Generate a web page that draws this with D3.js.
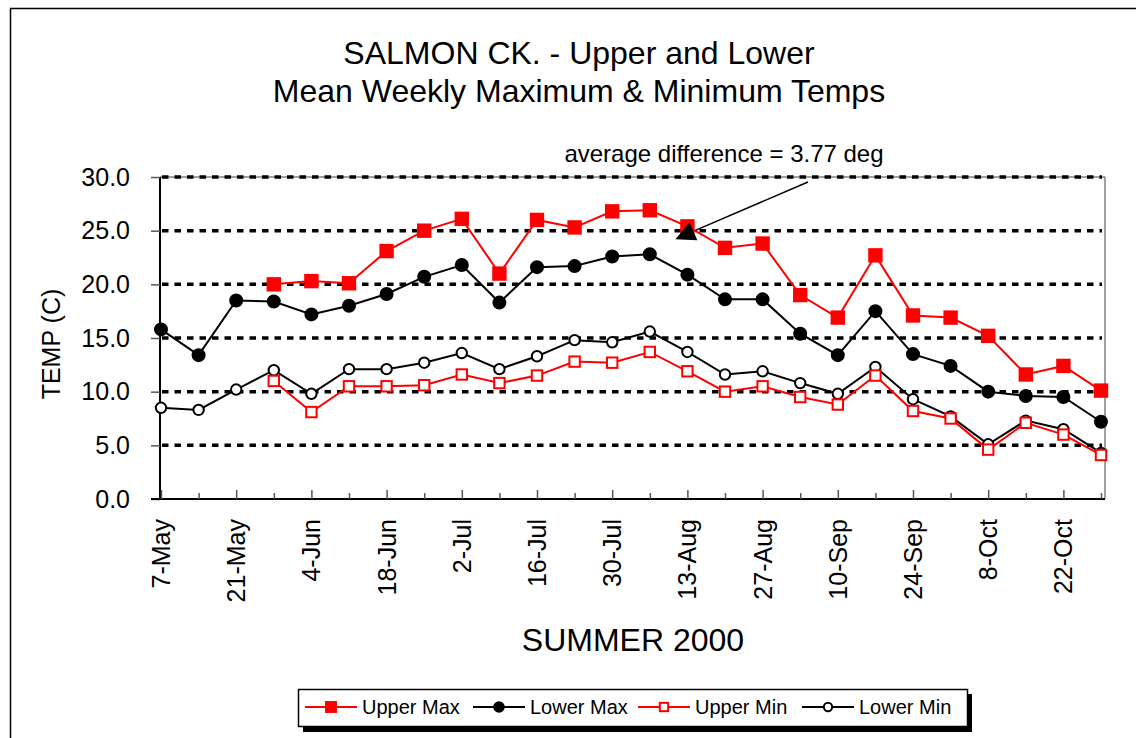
<!DOCTYPE html>
<html>
<head>
<meta charset="utf-8">
<script src="https://cdn.jsdelivr.net/npm/d3@7"></script>
<style>
  body { margin: 0; background: #fff; }
  svg { font-family: "Liberation Sans", Arial, sans-serif; }
</style>
</head>
<body>
<svg id="chart" width="1136" height="738"></svg>
<script>
// weekly dates, 7-May .. 29-Oct 2000
var weeks = ["7-May","14-May","21-May","28-May","4-Jun","11-Jun","18-Jun","25-Jun","2-Jul","9-Jul",
  "16-Jul","23-Jul","30-Jul","6-Aug","13-Aug","20-Aug","27-Aug","3-Sep","10-Sep","17-Sep",
  "24-Sep","1-Oct","8-Oct","15-Oct","22-Oct","29-Oct"];
var upperMax = [null,null,null,20.0,20.3,20.1,23.1,25.0,26.1,21.0,26.0,25.3,26.8,26.9,25.4,23.4,23.8,19.0,16.9,22.7,17.1,16.9,15.2,11.6,12.4,10.1];
var lowerMax = [15.8,13.4,18.5,18.4,17.2,18.0,19.1,20.7,21.8,18.3,21.6,21.7,22.6,22.8,20.9,18.6,18.6,15.4,13.4,17.5,13.5,12.4,10.0,9.6,9.5,7.2];
var upperMin = [null,null,null,11.0,8.1,10.5,10.5,10.6,11.6,10.8,11.5,12.8,12.7,13.7,11.9,10.0,10.5,9.5,8.8,11.5,8.2,7.5,4.6,7.1,6.0,4.1];
var lowerMin = [8.5,8.3,10.2,12.0,9.8,12.1,12.1,12.7,13.6,12.1,13.3,14.8,14.6,15.6,13.7,11.6,11.9,10.8,9.8,12.3,9.3,7.7,5.1,7.3,6.5,4.3];
var yTicks = [0,5,10,15,20,25,30];

var series = [
  {name:"Upper Max", values:upperMax, color:"#ff0000", marker:"square", filled:true},
  {name:"Lower Max", values:lowerMax, color:"#000000", marker:"circle", filled:true},
  {name:"Upper Min", values:upperMin, color:"#ff0000", marker:"square", filled:false},
  {name:"Lower Min", values:lowerMin, color:"#000000", marker:"circle", filled:false}
];

var svg = d3.select("#chart");
var pLeft = 160, pRight = 1105, pTop = 177, pBottom = 499;

var x = d3.scaleLinear().domain([0, weeks.length - 1]).range([161, 1101]);
var y = d3.scaleLinear().domain([0, 30]).range([pBottom, pTop]);

// outer chart frame
svg.append("rect").attr("x", 10.5).attr("y", 8.5).attr("width", 1140).attr("height", 740)
  .attr("fill", "none").attr("stroke", "#000").attr("stroke-width", 1.5);

// title
svg.append("text").attr("x", 579).attr("y", 64).attr("text-anchor", "middle")
  .attr("font-size", 32).text("SALMON CK. - Upper and Lower");
svg.append("text").attr("x", 579).attr("y", 102).attr("text-anchor", "middle")
  .attr("font-size", 32).text("Mean Weekly Maximum & Minimum Temps");

// plot border (gray top / right)
svg.append("line").attr("x1", pLeft).attr("x2", pRight).attr("y1", pTop).attr("y2", pTop)
  .attr("stroke", "#808080").attr("stroke-width", 1.5);
svg.append("line").attr("x1", pRight).attr("x2", pRight).attr("y1", pTop).attr("y2", pBottom)
  .attr("stroke", "#808080").attr("stroke-width", 1.5);

// dotted gridlines
svg.append("g").selectAll("line").data(yTicks.filter(d => d > 0)).join("line")
  .attr("x1", pLeft + 2).attr("x2", pRight - 3)
  .attr("y1", d => y(d)).attr("y2", d => y(d))
  .attr("stroke", "#000").attr("stroke-width", 3.5)
  .attr("stroke-dasharray", "6.5,6");

// y axis
var yAxis = svg.append("g").attr("transform", `translate(${pLeft},0)`)
  .call(d3.axisLeft(y).tickValues(yTicks).tickFormat(d3.format(".1f")).tickSize(9).tickPadding(21));
yAxis.select(".domain").attr("d", `M0,${pTop}V${pBottom}`).attr("stroke-width", 2);
yAxis.selectAll(".tick line").attr("stroke", "#555").attr("stroke-width", 1.5);
yAxis.selectAll("text").attr("font-size", 25).attr("fill", "#000")
  .attr("font-family", "Liberation Sans, Arial, sans-serif");

// x axis
var xAxis = svg.append("g").attr("transform", `translate(0,${pBottom})`)
  .call(d3.axisBottom(x).tickValues(d3.range(weeks.length)).tickSize(0).tickFormat(""));
xAxis.select(".domain").attr("d", `M${pLeft - 9},0H${pRight}`).attr("stroke-width", 2);
xAxis.selectAll(".tick line").attr("y2", (d, i) => i % 2 === 0 ? -9 : -6)
  .attr("stroke", "#555").attr("stroke-width", 1.5);

svg.append("g").selectAll("text").data(weeks.filter((d, i) => i % 2 === 0)).join("text")
  .attr("transform", (d, i) => `translate(${x(i * 2) + 9},${pBottom + 20}) rotate(-90)`)
  .attr("text-anchor", "end").attr("font-size", 25).text(d => d);

// axis titles
svg.append("text").attr("x", 633).attr("y", 651).attr("text-anchor", "middle")
  .attr("font-size", 32).text("SUMMER 2000");
svg.append("text").attr("transform", "translate(60,344) rotate(-90)").attr("text-anchor", "middle")
  .attr("font-size", 25).text("TEMP (C)");

// series lines & markers
var line = d3.line().defined(d => d != null).x((d, i) => x(i)).y(d => y(d));

function drawMarker(g, s, cx, cy, scale) {
  if (s.marker === "square") {
    var h = (s.filled ? 6.2 : 5.2) * scale;
    g.append("rect").attr("x", cx - h).attr("y", cy - h).attr("width", 2 * h).attr("height", 2 * h)
      .attr("fill", s.filled ? s.color : "#fff").attr("stroke", s.color).attr("stroke-width", 2);
  } else {
    g.append("circle").attr("cx", cx).attr("cy", cy).attr("r", (s.filled ? 6 : 5.2) * scale)
      .attr("fill", s.filled ? s.color : "#fff").attr("stroke", s.color).attr("stroke-width", 2);
  }
}

series.slice().reverse().forEach(function(s) {
  var g = svg.append("g");
  g.append("path").datum(s.values).attr("d", line)
    .attr("fill", "none").attr("stroke", s.color).attr("stroke-width", 2);
  s.values.forEach(function(v, i) {
    if (v != null) drawMarker(g, s, x(i), y(v), 1);
  });
});

// annotation
svg.append("text").attr("x", 724).attr("y", 162).attr("text-anchor", "middle")
  .attr("font-size", 24).text("average difference = 3.77 deg");
var ax = x(14), ay = y(upperMax[14]);
svg.append("line").attr("x1", 808).attr("y1", 182).attr("x2", ax + 8).attr("y2", ay + 4)
  .attr("stroke", "#000").attr("stroke-width", 1.5);
svg.append("path")
  .attr("d", `M${ax - 12},${ay + 13}L${ax + 10},${ay + 14}L${ax + 2},${ay - 4}Z`)
  .attr("fill", "#000");

// legend
var lg = svg.append("g");
lg.append("rect").attr("x", 303).attr("y", 694).attr("width", 669).attr("height", 38).attr("fill", "#000");
lg.append("rect").attr("x", 298.5).attr("y", 689.5).attr("width", 669).attr("height", 37)
  .attr("fill", "#fff").attr("stroke", "#000").attr("stroke-width", 1.5);
var lx = [305, 473, 638, 802];
series.forEach(function(s, i) {
  var gx = lx[i], gy = 707;
  lg.append("line").attr("x1", gx).attr("x2", gx + 52).attr("y1", gy).attr("y2", gy)
    .attr("stroke", s.color).attr("stroke-width", 2);
  drawMarker(lg, s, gx + 26, gy, 0.8);
  lg.append("text").attr("x", gx + 57).attr("y", gy + 7).attr("font-size", 20).text(s.name);
});
</script>
</body>
</html>
